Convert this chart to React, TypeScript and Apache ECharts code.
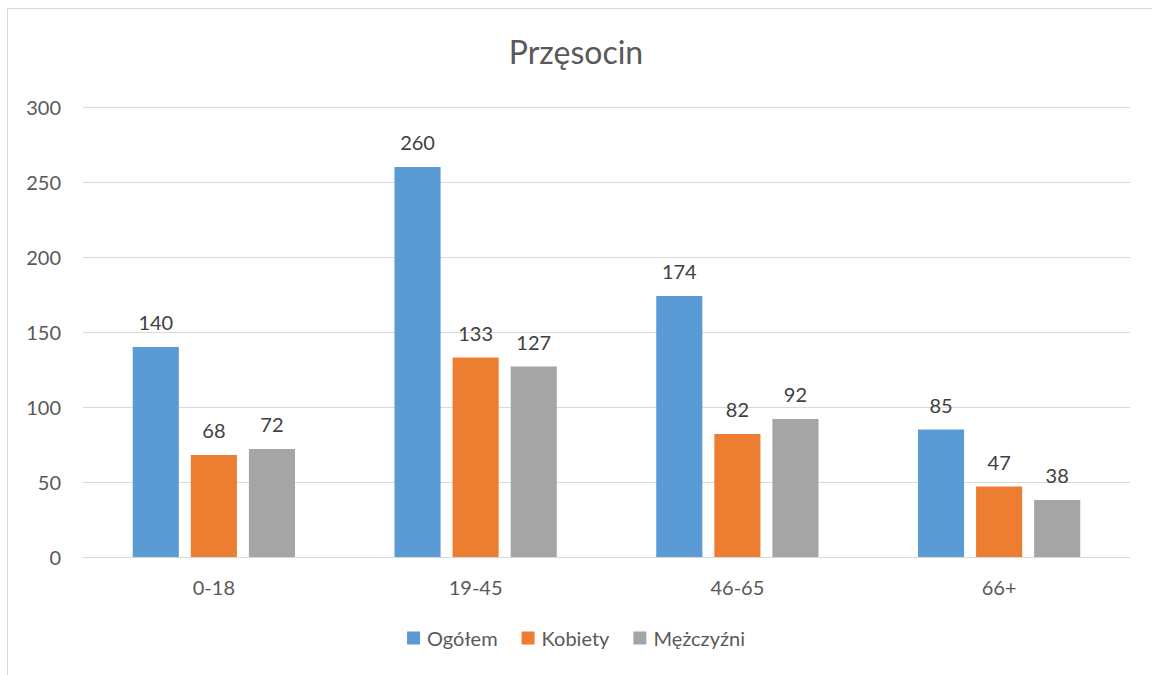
import React, { useEffect, useRef } from "react";
import * as echarts from "echarts";

const title = "Przęsocin";
const categories = ["0-18", "19-45", "46-65", "66+"];
const seriesNames = ["Ogółem", "Kobiety", "Mężczyźni"];
const ogolem = [140, 260, 174, 85];
const kobiety = [68, 133, 82, 47];
const mezczyzni = [72, 127, 92, 38];
const colors = ["#5B9BD5", "#ED7D31", "#A5A5A5"];
const yTicks = { min: 0, max: 300, interval: 50 };

const FONT = "Lato, 'Noto Sans', sans-serif";

export default function App() {
  const ref = useRef<HTMLDivElement>(null);
  useEffect(() => {
    if (!ref.current) return;
    const chart = echarts.init(ref.current, null, { renderer: "svg" });
    const values = [ogolem, kobiety, mezczyzni];
    chart.setOption({
      animation: false,
      backgroundColor: "#ffffff",
      textStyle: { fontFamily: FONT },
      graphic: [
        {
          type: "rect",
          shape: { x: 7.5, y: 8.5, width: 1300, height: 800 },
          style: { fill: "none", stroke: "#d9d9d9", lineWidth: 1 },
          silent: true,
        },
      ],
      title: {
        text: title,
        left: "center",
        top: 30,
        textStyle: { fontFamily: FONT, fontSize: 32, fontWeight: "normal", color: "#595959" },
      },
      legend: {
        data: seriesNames,
        bottom: 22,
        left: "center",
        itemWidth: 13,
        itemHeight: 13,
        itemGap: 24,
        icon: "rect",
        textStyle: { fontFamily: FONT, fontSize: 20, color: "#595959", padding: [0, 0, 0, 2] },
      },
      grid: { left: 83, right: 22, top: 107, bottom: 118, containLabel: false },
      xAxis: {
        type: "category",
        data: categories,
        axisLine: { show: true, lineStyle: { color: "#d9d9d9", width: 1 } },
        axisTick: { show: false },
        axisLabel: { fontFamily: FONT, fontSize: 20, color: "#595959", margin: 20 },
      },
      yAxis: {
        type: "value",
        min: yTicks.min,
        max: yTicks.max,
        interval: yTicks.interval,
        axisLine: { show: false },
        axisTick: { show: false },
        splitLine: { lineStyle: { color: "#d9d9d9", width: 1 } },
        axisLabel: { fontFamily: FONT, fontSize: 20, color: "#595959", margin: 22 },
      },
      series: seriesNames.map((name, i) => ({
        name,
        type: "bar",
        data: values[i],
        barGap: "26%",
        barCategoryGap: "38%",
        itemStyle: { color: colors[i] },
        label: {
          show: true,
          position: "top",
          distance: 15,
          fontFamily: FONT,
          fontSize: 20,
          color: "#404040",
        },
      })),
    });
    return () => chart.dispose();
  }, []);
  return (
    <div
      ref={ref}
      style={{ position: "fixed", left: 0, top: 0, width: 1152, height: 675 }}
    />
  );
}
